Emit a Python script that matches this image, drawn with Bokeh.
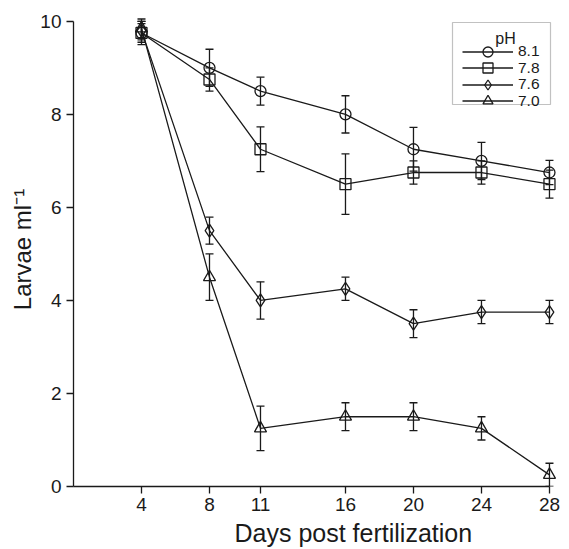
from bokeh.plotting import figure
from bokeh.models import (ColumnDataSource, Whisker, TeeHead, Legend, LegendItem,
                          FixedTicker, Range1d, LinearAxis, Title, BoxAnnotation, Label)
from bokeh.embed import file_html
from bokeh.resources import INLINE

days = [4, 8, 11, 16, 20, 24, 28]
ph_labels = ["8.1", "7.8", "7.6", "7.0"]
ph81 = [9.75, 9.0, 8.5, 8.0, 7.25, 7.0, 6.75]
ph81_err = [0.2, 0.4, 0.3, 0.4, 0.47, 0.4, 0.26]
ph78 = [9.75, 8.75, 7.25, 6.5, 6.75, 6.75, 6.5]
ph78_err = [0.25, 0.25, 0.48, 0.65, 0.25, 0.25, 0.3]
ph76 = [9.8, 5.5, 4.0, 4.25, 3.5, 3.75, 3.75]
ph76_err = [0.2, 0.29, 0.4, 0.25, 0.3, 0.25, 0.25]
ph70 = [9.85, 4.5, 1.25, 1.5, 1.5, 1.25, 0.25]
ph70_err = [0.2, 0.5, 0.48, 0.3, 0.3, 0.25, 0.25]
y_ticks = [0, 2, 4, 6, 8, 10]

FONT = "Liberation Sans"
INK = "#1a1a1a"

p = figure(width=569, height=549, output_backend="svg", toolbar_location=None,
           x_range=Range1d(0, 28.59), y_range=Range1d(0, 10.19),
           x_axis_type=None, y_axis_type=None,
           min_border_left=73, min_border_right=10, min_border_top=12, min_border_bottom=63)
p.outline_line_color = None
p.xgrid.visible = False
p.ygrid.visible = False
p.background_fill_color = "white"
p.border_fill_color = "white"

xaxis = LinearAxis(ticker=FixedTicker(ticks=days), bounds=(0, 28))
yaxis = LinearAxis(ticker=FixedTicker(ticks=y_ticks), bounds=(0, 10),
                   axis_label="Larvae ml\u207b\u00b9")
for ax in (xaxis, yaxis):
    ax.axis_line_color = INK
    ax.axis_line_width = 1.3
    ax.major_tick_line_color = INK
    ax.major_tick_line_width = 1.3
    ax.major_tick_out = 7
    ax.major_tick_in = 0
    ax.minor_tick_line_color = None
    ax.major_label_text_font = FONT
    ax.major_label_text_font_size = "19px"
    ax.major_label_text_color = INK
    ax.axis_label_text_font = FONT
    ax.axis_label_text_font_size = "24px"
    ax.axis_label_text_font_style = "normal"
    ax.axis_label_text_color = INK
xaxis.major_label_standoff = 4
yaxis.major_label_standoff = 5
yaxis.axis_label_standoff = 1
p.add_layout(xaxis, "below")
p.add_layout(yaxis, "left")

xtitle = Title(text="Days post fertilization", align="left", offset=161,
               text_font=FONT, text_font_size="25px", text_font_style="normal",
               text_color=INK, standoff=6)
p.add_layout(xtitle, "below")

series = [
    (ph81, ph81_err, "circle", 11),
    (ph78, ph78_err, "square", 11),
    (ph76, ph76_err, "diamond", 13),
    (ph70, ph70_err, "triangle", 12),
]

# legend frame and title (screen units relative to the plot frame)
legend_box = BoxAnnotation(left=379, right=477, top=464, bottom=382,
                           left_units="screen", right_units="screen",
                           top_units="screen", bottom_units="screen",
                           fill_color="white", fill_alpha=1.0,
                           line_color="#333333", line_width=1.2)
p.add_layout(legend_box)
p.add_layout(Label(x=432, y=448, x_units="screen", y_units="screen", text="pH",
                   text_align="center", text_baseline="alphabetic",
                   text_font=FONT, text_font_size="16px", text_color=INK))

row_centers = [51, 67.5, 84, 100.5]  # screen y of each legend row (from canvas top)
for i, (label, (vals, errs, marker, size)) in enumerate(zip(ph_labels, series)):
    src = ColumnDataSource(dict(
        x=days, y=vals,
        upper=[v + e for v, e in zip(vals, errs)],
        lower=[v - e for v, e in zip(vals, errs)],
    ))
    w = Whisker(source=src, base="x", upper="upper", lower="lower", dimension="height",
                line_color=INK, line_width=1.3,
                upper_head=TeeHead(size=8, line_color=INK, line_width=1.3),
                lower_head=TeeHead(size=8, line_color=INK, line_width=1.3))
    p.add_layout(w)
    ln = p.line("x", "y", source=src, line_color=INK, line_width=1.3)
    sc = p.scatter("x", "y", source=src, marker=marker, size=size,
                   fill_color=None, line_color=INK, line_width=1.3)
    lg = Legend(items=[LegendItem(label=label, renderers=[ln, sc])],
                location=(389, 486 - (row_centers[i] + 12.5)),
                label_text_font=FONT, label_text_font_size="15.5px", label_text_color=INK,
                label_height=25, glyph_height=25, glyph_width=51, spacing=0,
                label_standoff=5, padding=0, margin=0,
                border_line_color=None, background_fill_alpha=0.0)
    p.add_layout(lg)

open("out.html", "w").write(file_html(p, INLINE))
